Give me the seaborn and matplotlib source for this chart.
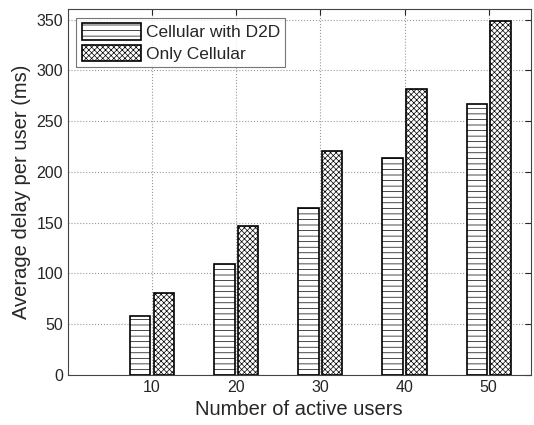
import numpy as np
import pandas as pd
import matplotlib
matplotlib.use("Agg")
import matplotlib.pyplot as plt
import seaborn as sns

users = [10, 20, 30, 40, 50]
d2d_delay = [58, 109, 164, 214, 267]
cell_delay = [81, 147, 220, 282, 349]
schemes = ["Cellular with D2D", "Only Cellular"]
hatches = ["---", "xxxxxx"]

df = pd.DataFrame({
    "users": users * 2,
    "delay": d2d_delay + cell_delay,
    "scheme": [schemes[0]] * len(users) + [schemes[1]] * len(users),
})

sns.set_style("white")
plt.rcParams["font.family"] = ["Liberation Sans", "DejaVu Sans"]
plt.rcParams["hatch.linewidth"] = 0.5
plt.rcParams["hatch.color"] = "black"

fig = plt.figure(figsize=(5.34, 4.25), dpi=100)
ax = fig.add_axes([0.127, 0.118, 0.867, 0.860])

sns.barplot(data=df, x="users", y="delay", hue="scheme", native_scale=True,
            width=0.56, gap=0.13, palette=["white", "white"],
            edgecolor="black", linewidth=1.2, ax=ax)

# apply hatches per series
for cont, h in zip(ax.containers, hatches):
    for bar in cont:
        bar.set_hatch(h)

ax.set_xlim(0, 55)
ax.set_ylim(0, 360)
ax.set_xticks(users)
ax.set_yticks(np.arange(0, 351, 50))
ax.grid(True, linestyle=":", color="#999999", linewidth=0.8)
ax.set_axisbelow(True)
ax.tick_params(direction="in", top=True, right=True, labelsize=11.5, length=4)
for s in ax.spines.values():
    s.set_color("#444444")
    s.set_linewidth(0.8)

ax.set_xlabel("Number of active users", fontsize=14.5)
ax.set_ylabel("Average delay per user (ms)", fontsize=14.5)

leg = ax.legend(loc="upper left", fontsize=12.5, frameon=True, fancybox=False,
                edgecolor="#555555", borderaxespad=0.5, handlelength=3.4,
                handleheight=1.1, borderpad=0.3, labelspacing=0.25, handletextpad=0.3)
leg.get_frame().set_linewidth(0.8)
for patch, h in zip(leg.get_patches(), hatches):
    patch.set_hatch(h)
    patch.set_edgecolor("black")

fig.savefig("out.png", dpi=100)
